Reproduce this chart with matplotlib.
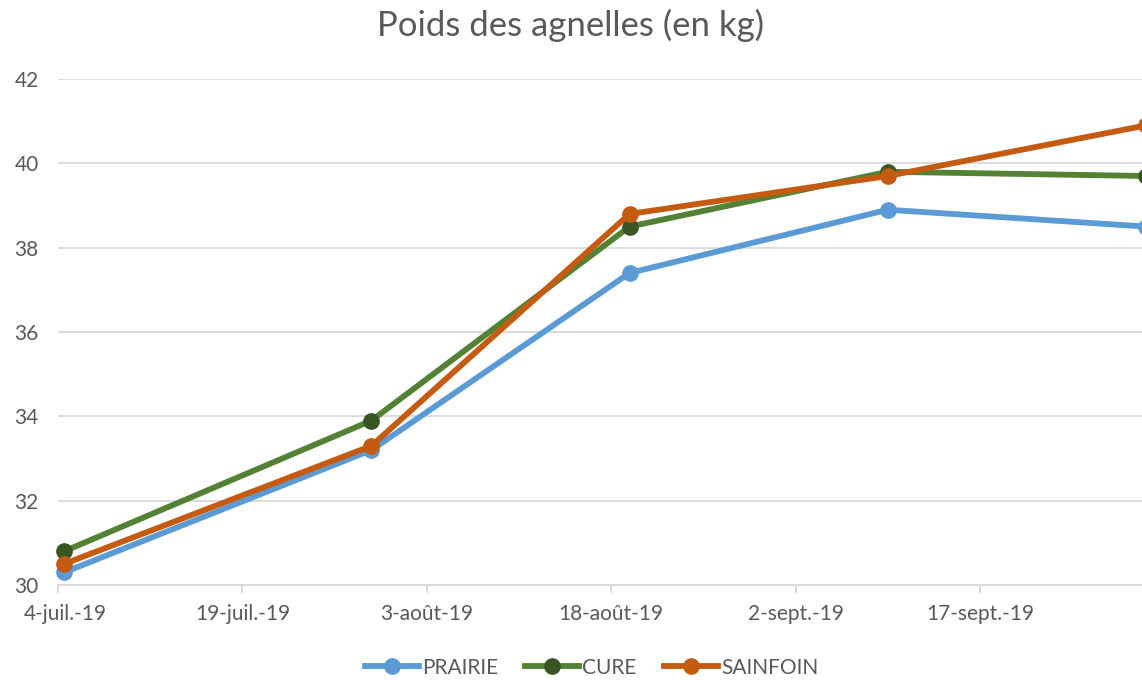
import matplotlib
matplotlib.use("Agg")
import matplotlib.pyplot as plt
import matplotlib.dates as mdates
import matplotlib.transforms as mtransforms
from datetime import date

# weighing dates
dates = [date(2019, 7, 4), date(2019, 7, 29), date(2019, 8, 19),
         date(2019, 9, 9), date(2019, 9, 30)]
prairie = [30.3, 33.2, 37.4, 38.9, 38.5]
cure = [30.8, 33.9, 38.5, 39.8, 39.7]
sainfoin = [30.5, 33.3, 38.8, 39.7, 40.9]

tick_dates = [date(2019, 7, 4), date(2019, 7, 19), date(2019, 8, 3),
              date(2019, 8, 18), date(2019, 9, 2), date(2019, 9, 17)]
tick_labels = ["4-juil.-19", "19-juil.-19", "3-août-19", "18-août-19",
               "2-sept.-19", "17-sept.-19"]
yticks = [30, 32, 34, 36, 38, 40, 42]

plt.rcParams['font.family'] = ['Lato', 'DejaVu Sans']
grey = "#595959"
gridc = "#d9d9d9"

fig = plt.figure(figsize=(11.42, 6.8), dpi=100)
ax = fig.add_axes([0.0508, 0.1397, 0.958, 0.7441])

# Excel puts date points in the middle of the day
x = [mdates.date2num(d) + 0.5 for d in dates]
ax.plot(x, prairie, color="#5B9BD5", lw=4.2, marker="o", ms=11,
        mfc="#5B9BD5", mec="#5B9BD5", label="PRAIRIE", clip_on=False)
ax.plot(x, cure, color="#548235", lw=4.2, marker="o", ms=11,
        mfc="#375623", mec="#375623", label="CURE", clip_on=False)
ax.plot(x, sainfoin, color="#C55A11", lw=4.2, marker="o", ms=11,
        mfc="#C55A11", mec="#C55A11", label="SAINFOIN", clip_on=False)

ax.set_xlim(mdates.date2num(date(2019, 7, 4)), mdates.date2num(date(2019, 10, 1)))
ax.set_ylim(30, 42)
ax.set_xticks([mdates.date2num(d) for d in tick_dates])
ax.set_xticklabels(tick_labels)
ax.set_yticks(yticks)
ax.grid(axis="y", color=gridc, lw=1.3)
ax.set_axisbelow(True)
for s in ["left", "right", "top"]:
    ax.spines[s].set_visible(False)
ax.spines["bottom"].set_color(gridc)
ax.spines["bottom"].set_linewidth(1.3)
ax.tick_params(axis="x", colors=gridc, length=6, width=1.3, labelcolor=grey,
               labelsize=15, pad=8)
ax.tick_params(axis="y", length=0, labelcolor=grey, labelsize=15, pad=14)

# first label is pushed a bit inside, like in Excel
lab0 = ax.get_xticklabels()[0]
lab0.set_transform(lab0.get_transform()
                   + mtransforms.ScaledTranslation(0.07, 0, fig.dpi_scale_trans))

fig.text(0.5, 0.962, "Poids des agnelles (en kg)", ha="center", va="center",
         fontsize=25, color=grey)
fig.legend(loc="center", bbox_to_anchor=(0.518, 0.018), ncol=3, frameon=False,
           fontsize=15, labelcolor=grey, handlelength=2.6, columnspacing=1.3,
           handletextpad=0.15)

fig.savefig("out.png", dpi=100)
